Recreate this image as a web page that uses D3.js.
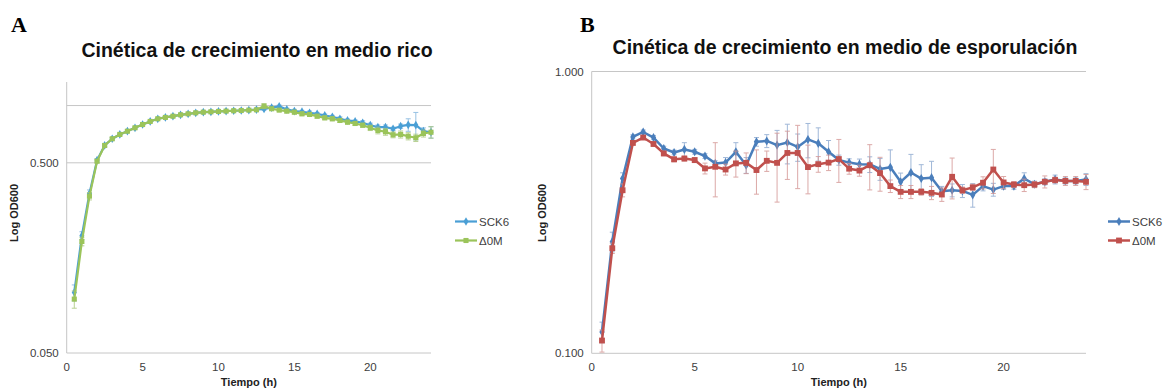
<!DOCTYPE html>
<html>
<head>
<meta charset="utf-8">
<script src="https://cdn.jsdelivr.net/npm/d3@7/dist/d3.min.js"></script>
<style>
  body { margin: 0; background: #fff; }
  svg { display: block; font-family: "Liberation Sans", Arial, sans-serif; }
</style>
</head>
<body>
<svg id="chart" width="1164" height="390"></svg>
<script>
// tiempo de muestreo (h), cada media hora
const timeH = [0.5, 1, 1.5, 2, 2.5, 3, 3.5, 4, 4.5, 5, 5.5, 6,
  6.5, 7, 7.5, 8, 8.5, 9, 9.5, 10, 10.5, 11, 11.5, 12,
  12.5, 13, 13.5, 14, 14.5, 15, 15.5, 16, 16.5, 17, 17.5, 18,
  18.5, 19, 19.5, 20, 20.5, 21, 21.5, 22, 22.5, 23, 23.5, 24];

const seriesNames = ['SCK6', '\u03940M'];

// A: medio rico
const richSCK6 = [0.104, 0.207, 0.345, 0.516, 0.617, 0.669, 0.705, 0.733, 0.764, 0.795, 0.825, 0.852,
  0.866, 0.879, 0.894, 0.905, 0.916, 0.923, 0.927, 0.931, 0.935, 0.939, 0.942, 0.946,
  0.952, 0.960, 0.975, 0.990, 0.954, 0.935, 0.928, 0.916, 0.905, 0.887, 0.873, 0.852,
  0.835, 0.825, 0.812, 0.788, 0.770, 0.770, 0.755, 0.779, 0.792, 0.790, 0.733, 0.724];
const richSCK6Err = [0.01, 0.01, 0.015, 0.01, 0.01, 0.01, 0.01, 0.01, 0.01, 0.01, 0.01, 0.01,
  0.01, 0.01, 0.01, 0.01, 0.01, 0.01, 0.01, 0.01, 0.01, 0.01, 0.01, 0.01,
  0.01, 0.015, 0.015, 0.015, 0.015, 0.02, 0.015, 0.02, 0.015, 0.015, 0.015, 0.02,
  0.015, 0.015, 0.02, 0.02, 0.02, 0.02, 0.015, 0.02, 0.06, 0.13, 0.03, 0.05];
const richD0M = [0.096, 0.193, 0.334, 0.510, 0.617, 0.669, 0.705, 0.733, 0.764, 0.795, 0.825, 0.852,
  0.866, 0.879, 0.894, 0.905, 0.916, 0.923, 0.927, 0.931, 0.935, 0.939, 0.942, 0.946,
  0.950, 0.993, 0.962, 0.946, 0.935, 0.923, 0.905, 0.898, 0.879, 0.862, 0.852, 0.835,
  0.818, 0.805, 0.788, 0.764, 0.740, 0.728, 0.702, 0.705, 0.690, 0.677, 0.713, 0.724];
const richD0MErr = [0.01, 0.01, 0.015, 0.01, 0.01, 0.01, 0.01, 0.01, 0.01, 0.01, 0.01, 0.01,
  0.01, 0.01, 0.01, 0.01, 0.01, 0.01, 0.01, 0.01, 0.01, 0.01, 0.01, 0.01,
  0.01, 0.03, 0.015, 0.015, 0.02, 0.02, 0.02, 0.02, 0.02, 0.02, 0.02, 0.02,
  0.02, 0.02, 0.02, 0.025, 0.03, 0.03, 0.025, 0.03, 0.03, 0.03, 0.03, 0.05];

// B: medio de esporulacion
const sporSCK6 = [0.119, 0.249, 0.417, 0.586, 0.610, 0.583, 0.533, 0.516, 0.529, 0.519, 0.501, 0.472,
  0.475, 0.519, 0.465, 0.563, 0.567, 0.548, 0.560, 0.540, 0.574, 0.556, 0.519, 0.485,
  0.475, 0.469, 0.468, 0.451, 0.457, 0.406, 0.438, 0.417, 0.420, 0.376, 0.379, 0.377,
  0.365, 0.392, 0.381, 0.392, 0.392, 0.417, 0.398, 0.406, 0.414, 0.409, 0.409, 0.414];
const sporSCK6Err = [0.01, 0.02, 0.02, 0.01, 0.01, 0.01, 0.01, 0.01, 0.03, 0.01, 0.01, 0.01,
  0.02, 0.04, 0.03, 0.02, 0.03, 0.07, 0.09, 0.06, 0.08, 0.075, 0.05, 0.02,
  0.015, 0.02, 0.03, 0.04, 0.07, 0.03, 0.07, 0.05, 0.06, 0.015, 0.02, 0.02,
  0.035, 0.015, 0.02, 0.01, 0.01, 0.02, 0.01, 0.01, 0.015, 0.01, 0.01, 0.02];
const sporD0M = [0.111, 0.236, 0.379, 0.558, 0.583, 0.553, 0.512, 0.488, 0.491, 0.485, 0.453, 0.459,
  0.449, 0.472, 0.474, 0.447, 0.482, 0.474, 0.514, 0.514, 0.458, 0.469, 0.475, 0.489,
  0.452, 0.445, 0.465, 0.436, 0.392, 0.374, 0.374, 0.374, 0.371, 0.366, 0.423, 0.379,
  0.388, 0.403, 0.449, 0.404, 0.397, 0.395, 0.397, 0.406, 0.412, 0.409, 0.409, 0.406];
const sporD0MErr = [0.01, 0.01, 0.02, 0.01, 0.01, 0.01, 0.01, 0.01, 0.01, 0.01, 0.02, 0.10,
  0.02, 0.05, 0.04, 0.08, 0.04, 0.13, 0.10, 0.13, 0.09, 0.03, 0.03, 0.085,
  0.02, 0.02, 0.085, 0.06, 0.02, 0.02, 0.02, 0.01, 0.02, 0.02, 0.07, 0.01,
  0.01, 0.02, 0.08, 0.02, 0.01, 0.02, 0.01, 0.02, 0.01, 0.015, 0.015, 0.025];

const xTicks = [0, 5, 10, 15, 20];

const svg = d3.select('#chart');

function drawPanel(cfg) {
  const x = d3.scaleLinear().domain([0, 24]).range([cfg.left, cfg.right]);
  const y = d3.scaleLog().domain(cfg.yDomain).range([cfg.bottom, cfg.top]);
  const g = svg.append('g');

  // letra del panel
  g.append('text')
    .attr('x', cfg.letterX).attr('y', 32)
    .attr('font-family', '"Liberation Serif", "Times New Roman", serif')
    .attr('font-weight', 'bold').attr('font-size', 22)
    .text(cfg.letter);

  // titulo
  g.append('text')
    .attr('x', cfg.titleX).attr('y', cfg.titleY)
    .attr('text-anchor', 'middle')
    .attr('font-weight', 'bold').attr('font-size', 19.5)
    .attr('fill', '#111')
    .text(cfg.title);

  // grid
  g.selectAll('.grid').data(cfg.grid).enter().append('line')
    .attr('x1', cfg.left).attr('x2', cfg.right)
    .attr('y1', d => y(d)).attr('y2', d => y(d))
    .attr('stroke', '#c6c6c6').attr('stroke-width', 1);

  // ejes
  g.append('line')
    .attr('x1', cfg.left).attr('x2', cfg.left)
    .attr('y1', cfg.top).attr('y2', cfg.bottom)
    .attr('stroke', '#c6c6c6');
  g.append('line')
    .attr('x1', cfg.left).attr('x2', cfg.right)
    .attr('y1', cfg.bottom).attr('y2', cfg.bottom)
    .attr('stroke', '#c6c6c6');

  // etiquetas eje y
  g.selectAll('.ylab').data(cfg.yLabels).enter().append('text')
    .attr('x', cfg.left - 8).attr('y', d => y(d) + 4)
    .attr('text-anchor', 'end').attr('font-size', 11.5).attr('fill', '#404040')
    .text(d => d3.format('.3f')(d));

  // etiquetas eje x
  g.selectAll('.xlab').data(xTicks).enter().append('text')
    .attr('x', d => x(d)).attr('y', cfg.bottom + 18)
    .attr('text-anchor', 'middle').attr('font-size', 11.5).attr('fill', '#404040')
    .text(d => d);

  g.append('text')
    .attr('x', (cfg.left + cfg.right) / 2).attr('y', cfg.bottom + 33)
    .attr('text-anchor', 'middle').attr('font-weight', 'bold').attr('font-size', 11)
    .attr('fill', '#222')
    .text('Tiempo (h)');

  g.append('text')
    .attr('transform', `translate(${cfg.yTitleX},213) rotate(-90)`)
    .attr('text-anchor', 'middle').attr('font-weight', 'bold').attr('font-size', 11)
    .attr('fill', '#222')
    .text('Log OD600');

  // series
  cfg.series.forEach(s => {
    const pts = timeH.map((t, i) => ({ t, v: s.values[i], e: s.errors[i] }));

    // barras de error
    const eb = g.append('g').attr('stroke', s.errColor).attr('stroke-width', 1).attr('opacity', 0.8);
    pts.forEach(p => {
      const yHi = y(p.v + p.e), yLo = y(Math.max(p.v - p.e, 0.01));
      eb.append('line').attr('x1', x(p.t)).attr('x2', x(p.t)).attr('y1', yHi).attr('y2', yLo);
      eb.append('line').attr('x1', x(p.t) - 2.5).attr('x2', x(p.t) + 2.5).attr('y1', yHi).attr('y2', yHi);
      eb.append('line').attr('x1', x(p.t) - 2.5).attr('x2', x(p.t) + 2.5).attr('y1', yLo).attr('y2', yLo);
    });

    g.append('path')
      .datum(pts)
      .attr('fill', 'none')
      .attr('stroke', s.color)
      .attr('stroke-width', cfg.lineWidth)
      .attr('stroke-linejoin', 'round')
      .attr('d', d3.line().x(d => x(d.t)).y(d => y(d.v)));

    const sym = d3.symbol().type(s.shape).size(s.size);
    g.append('g').selectAll('path').data(pts).enter().append('path')
      .attr('transform', d => `translate(${x(d.t)},${y(d.v)})`)
      .attr('d', sym)
      .attr('fill', s.color);
  });

  // leyenda
  cfg.series.forEach((s, i) => {
    const ly = 221.5 + i * 19;
    g.append('line')
      .attr('x1', cfg.legendX).attr('x2', cfg.legendX + 22)
      .attr('y1', ly).attr('y2', ly)
      .attr('stroke', s.color).attr('stroke-width', cfg.lineWidth);
    g.append('path')
      .attr('transform', `translate(${cfg.legendX + 11},${ly})`)
      .attr('d', d3.symbol().type(s.shape).size(s.size))
      .attr('fill', s.color);
    g.append('text')
      .attr('x', cfg.legendX + 24).attr('y', ly + 4)
      .attr('font-size', 11.5).attr('fill', '#404040')
      .text(seriesNames[i]);
  });
}

drawPanel({
  letter: 'A', letterX: 11,
  title: 'Cinética de crecimiento en medio rico', titleX: 257, titleY: 57,
  left: 66.7, right: 431, top: 82, bottom: 353,
  yDomain: [0.05, 1.33], grid: [0.5, 1.0], yLabels: [0.05, 0.5],
  yTitleX: 18, legendX: 455, lineWidth: 2.2,
  series: [
    { values: richSCK6, errors: richSCK6Err, color: '#4a9fd5', errColor: '#7fb3dd', shape: d3.symbolDiamond, size: 22 },
    { values: richD0M, errors: richD0MErr, color: '#9bc45a', errColor: '#a9c77a', shape: d3.symbolSquare, size: 26 }
  ]
});

drawPanel({
  letter: 'B', letterX: 580,
  title: 'Cinética de crecimiento en medio de esporulación', titleX: 845, titleY: 54,
  left: 591.7, right: 1086, top: 71.5, bottom: 353.3,
  yDomain: [0.1, 1.0], grid: [1.0], yLabels: [0.1, 1.0],
  yTitleX: 546, legendX: 1108, lineWidth: 2.5,
  series: [
    { values: sporSCK6, errors: sporSCK6Err, color: '#4a7ebb', errColor: '#8aa7cf', shape: d3.symbolDiamond, size: 24 },
    { values: sporD0M, errors: sporD0MErr, color: '#c0504d', errColor: '#d49593', shape: d3.symbolSquare, size: 34 }
  ]
});
</script>
</body>
</html>
